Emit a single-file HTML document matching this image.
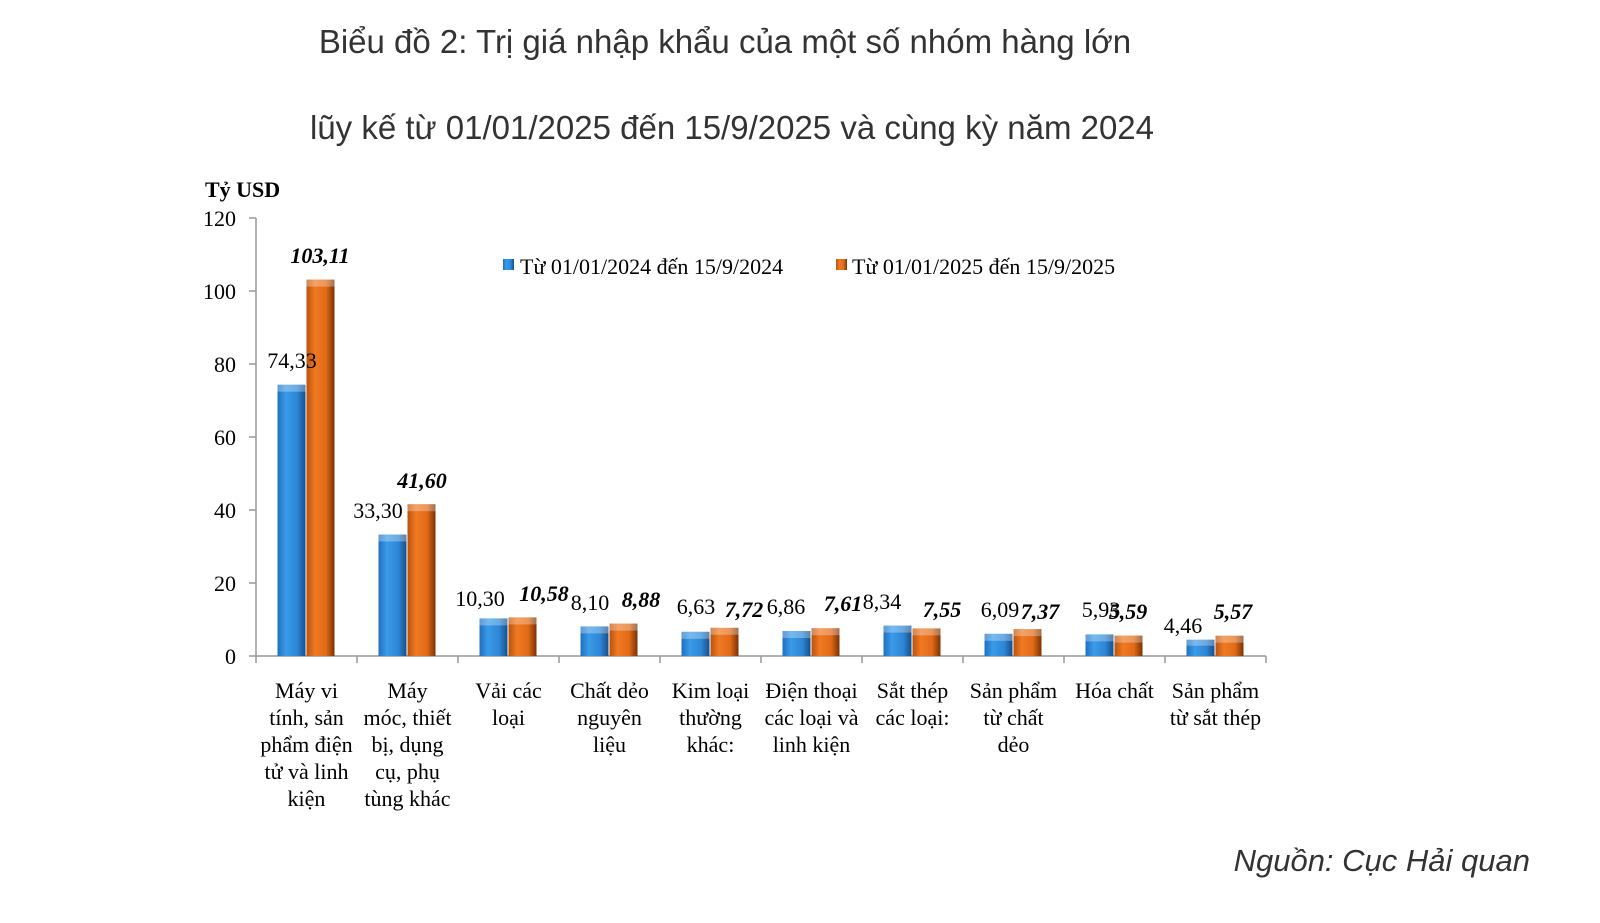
<!DOCTYPE html>
<html><head><meta charset="utf-8"><style>
body{margin:0;background:#fff;}
svg text{font-family:"Liberation Serif",serif;}
svg .s{font-family:"Liberation Sans",sans-serif;}
</style></head><body>
<svg width="1600" height="918" xmlns="http://www.w3.org/2000/svg">
<defs>
<linearGradient id="gb" x1="0" x2="1" y1="0" y2="0"><stop offset="0" stop-color="#1f6fc0"/><stop offset="0.3" stop-color="#3a9be8"/><stop offset="0.7" stop-color="#2d86d6"/><stop offset="1" stop-color="#174f8a"/></linearGradient>
<linearGradient id="go" x1="0" x2="1" y1="0" y2="0"><stop offset="0" stop-color="#b9520e"/><stop offset="0.3" stop-color="#f07a22"/><stop offset="0.7" stop-color="#e06a18"/><stop offset="1" stop-color="#7a3205"/></linearGradient>
</defs>
<text class="s" x="725" y="53" font-size="33" fill="#333" text-anchor="middle">Biểu đồ 2: Trị giá nhập khẩu của một số nhóm hàng lớn</text>
<text class="s" x="732" y="139" font-size="33" fill="#333" text-anchor="middle">lũy kế từ 01/01/2025 đến 15/9/2025 và cùng kỳ năm 2024</text>
<text class="s" x="1530" y="871" text-anchor="end" font-size="31" font-style="italic" fill="#333">Nguồn: Cục Hải quan</text>
<text x="205" y="197" font-size="22" font-weight="bold">Tỷ USD</text>
<g stroke="#999" stroke-width="1.5">
<line x1="256" y1="218" x2="256" y2="657"/>
<line x1="256" y1="656" x2="1266" y2="656"/>
<line x1="249" x2="256" y1="656" y2="656"/><line x1="249" x2="256" y1="583" y2="583"/><line x1="249" x2="256" y1="510" y2="510"/><line x1="249" x2="256" y1="437" y2="437"/><line x1="249" x2="256" y1="364" y2="364"/><line x1="249" x2="256" y1="291" y2="291"/><line x1="249" x2="256" y1="218" y2="218"/>
<line x1="256" x2="256" y1="656" y2="663"/><line x1="357" x2="357" y1="656" y2="663"/><line x1="458" x2="458" y1="656" y2="663"/><line x1="559" x2="559" y1="656" y2="663"/><line x1="660" x2="660" y1="656" y2="663"/><line x1="761" x2="761" y1="656" y2="663"/><line x1="862" x2="862" y1="656" y2="663"/><line x1="963" x2="963" y1="656" y2="663"/><line x1="1064" x2="1064" y1="656" y2="663"/><line x1="1165" x2="1165" y1="656" y2="663"/><line x1="1266" x2="1266" y1="656" y2="663"/>
</g>
<g font-size="22" text-anchor="end">
<text x="236" y="664">0</text><text x="236" y="591">20</text><text x="236" y="518">40</text><text x="236" y="445">60</text><text x="236" y="372">80</text><text x="236" y="299">100</text><text x="236" y="226">120</text>
</g>
<g fill="url(#gb)">
<rect x="277.5" y="384.7" width="28" height="271.3"/>
<rect x="378.5" y="534.5" width="28" height="121.5"/>
<rect x="479.5" y="618.4" width="28" height="37.6"/>
<rect x="580.5" y="626.4" width="28" height="29.6"/>
<rect x="681.5" y="631.8" width="28" height="24.2"/>
<rect x="782.5" y="631.0" width="28" height="25.0"/>
<rect x="883.5" y="625.6" width="28" height="30.4"/>
<rect x="984.5" y="633.8" width="28" height="22.2"/>
<rect x="1085.5" y="634.4" width="28" height="21.6"/>
<rect x="1186.5" y="639.7" width="28" height="16.3"/>
</g>
<g fill="url(#go)">
<rect x="306.5" y="279.6" width="28" height="376.4"/>
<rect x="407.5" y="504.2" width="28" height="151.8"/>
<rect x="508.5" y="617.4" width="28" height="38.6"/>
<rect x="609.5" y="623.6" width="28" height="32.4"/>
<rect x="710.5" y="627.8" width="28" height="28.2"/>
<rect x="811.5" y="628.2" width="28" height="27.8"/>
<rect x="912.5" y="628.4" width="28" height="27.6"/>
<rect x="1013.5" y="629.1" width="28" height="26.9"/>
<rect x="1114.5" y="635.6" width="28" height="20.4"/>
<rect x="1215.5" y="635.7" width="28" height="20.3"/>
</g>
<g fill="#fff" fill-opacity="0.3">
<rect x="277.5" y="384.7" width="28" height="7"/><rect x="378.5" y="534.5" width="28" height="7"/><rect x="479.5" y="618.4" width="28" height="7"/><rect x="580.5" y="626.4" width="28" height="7"/><rect x="681.5" y="631.8" width="28" height="7"/><rect x="782.5" y="631.0" width="28" height="7"/><rect x="883.5" y="625.6" width="28" height="7"/><rect x="984.5" y="633.8" width="28" height="7"/><rect x="1085.5" y="634.4" width="28" height="7"/><rect x="1186.5" y="639.7" width="28" height="6"/>
<rect x="306.5" y="279.6" width="28" height="7"/><rect x="407.5" y="504.2" width="28" height="7"/><rect x="508.5" y="617.4" width="28" height="7"/><rect x="609.5" y="623.6" width="28" height="7"/><rect x="710.5" y="627.8" width="28" height="7"/><rect x="811.5" y="628.2" width="28" height="7"/><rect x="912.5" y="628.4" width="28" height="7"/><rect x="1013.5" y="629.1" width="28" height="7"/><rect x="1114.5" y="635.6" width="28" height="7"/><rect x="1215.5" y="635.7" width="28" height="7"/>
</g>
<g font-size="22" text-anchor="middle">
<text x="292" y="368">74,33</text><text x="378" y="518">33,30</text><text x="480" y="606">10,30</text><text x="590" y="610">8,10</text><text x="696" y="614">6,63</text><text x="786" y="614">6,86</text><text x="882" y="609">8,34</text><text x="1000" y="617">6,09</text><text x="1101" y="617">5,93</text><text x="1183" y="633">4,46</text>
</g>
<g font-size="22" text-anchor="middle" font-weight="bold" font-style="italic">
<text x="320" y="263">103,11</text><text x="422" y="488">41,60</text><text x="544" y="601">10,58</text><text x="641" y="607">8,88</text><text x="744" y="617">7,72</text><text x="843" y="611">7,61</text><text x="942" y="617">7,55</text><text x="1040" y="619">7,37</text><text x="1128" y="619">5,59</text><text x="1233" y="619">5,57</text>
</g>
<rect x="503" y="259" width="11" height="11" fill="url(#gb)"/>
<text x="520" y="274" font-size="22">Từ 01/01/2024 đến 15/9/2024</text>
<rect x="836" y="259" width="11" height="11" fill="url(#go)"/>
<text x="852" y="274" font-size="22">Từ 01/01/2025 đến 15/9/2025</text>
<g font-size="22" text-anchor="middle">
<text x="306.5" y="698">Máy vi</text><text x="306.5" y="725">tính, sản</text><text x="306.5" y="752">phẩm điện</text><text x="306.5" y="779">tử và linh</text><text x="306.5" y="806">kiện</text>
<text x="407.5" y="698">Máy</text><text x="407.5" y="725">móc, thiết</text><text x="407.5" y="752">bị, dụng</text><text x="407.5" y="779">cụ, phụ</text><text x="407.5" y="806">tùng khác</text>
<text x="508.5" y="698">Vải các</text><text x="508.5" y="725">loại</text>
<text x="609.5" y="698">Chất dẻo</text><text x="609.5" y="725">nguyên</text><text x="609.5" y="752">liệu</text>
<text x="710.5" y="698">Kim loại</text><text x="710.5" y="725">thường</text><text x="710.5" y="752">khác:</text>
<text x="811.5" y="698">Điện thoại</text><text x="811.5" y="725">các loại và</text><text x="811.5" y="752">linh kiện</text>
<text x="912.5" y="698">Sắt thép</text><text x="912.5" y="725">các loại:</text>
<text x="1013.5" y="698">Sản phẩm</text><text x="1013.5" y="725">từ chất</text><text x="1013.5" y="752">dẻo</text>
<text x="1114.5" y="698">Hóa chất</text>
<text x="1215.5" y="698">Sản phẩm</text><text x="1215.5" y="725">từ sắt thép</text>
</g>
</svg>
</body></html>
